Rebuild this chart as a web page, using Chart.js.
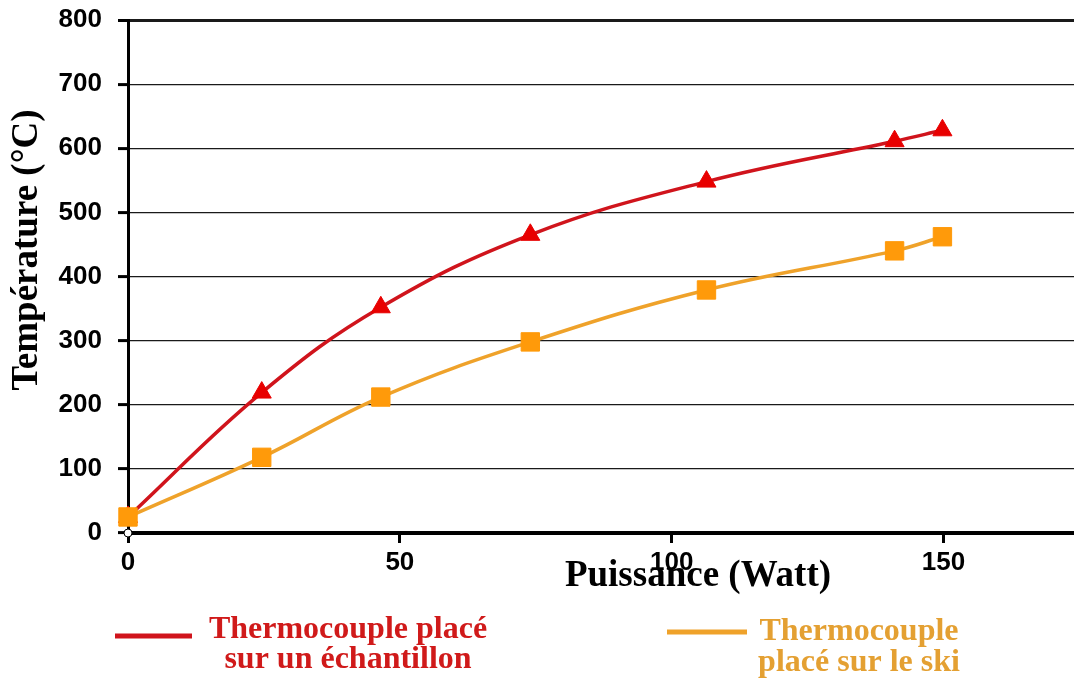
<!DOCTYPE html>
<html>
<head>
<meta charset="utf-8">
<script src="https://cdn.jsdelivr.net/npm/chart.js@4/dist/chart.umd.min.js"></script>
<style>
  html, body { margin: 0; padding: 0; background: #ffffff; }
  #wrap { width: 1074px; height: 680px; }
</style>
</head>
<body>
<div id="wrap"><canvas id="c" width="1074" height="680"></canvas></div>
<script>
// ---- Data ----
const puissance = [0, 24.6, 46.5, 74, 106.4, 141, 149.8];
const tempEchantillon = [25, 219, 352, 465, 548, 611, 628];
const tempSki = [25, 118, 212, 298, 379, 440, 462];
const seriesLabels = ['Thermocouple placé sur un échantillon', 'Thermocouple placé sur le ski'];
const legendLines = [['Thermocouple placé', 'sur un échantillon'], ['Thermocouple', 'placé sur le ski']];
const xTickValues = [0, 50, 100, 150];
const yTickValues = [0, 100, 200, 300, 400, 500, 600, 700, 800];
const xTitle = 'Puissance (Watt)';
const yTitle = 'Température (°C)';

const RED_LINE = '#D0141C', RED_MARK = '#E80000', RED_TEXT = '#D01A1A';
const OR_LINE = '#EFA22A', OR_MARK = '#FF9A0A', OR_TEXT = '#E4A032';

const toXY = (ys) => puissance.map((x, i) => ({ x: x, y: ys[i] }));

const decorPlugin = {
  id: 'decor',
  afterDraw(chart) {
    const ctx = chart.ctx;
    ctx.save();
    // axis titles
    ctx.fillStyle = '#000';
    ctx.font = 'bold 37px "Liberation Serif", "Times New Roman", serif';
    ctx.textAlign = 'center';
    ctx.textBaseline = 'alphabetic';
    ctx.fillText(xTitle, 698, 586);
    ctx.save();
    ctx.translate(37, 250);
    ctx.rotate(-Math.PI / 2);
    ctx.fillText(yTitle, 0, 0);
    ctx.restore();
    // origin marker
    ctx.beginPath();
    ctx.arc(chart.scales.x.getPixelForValue(0), chart.scales.y.getPixelForValue(0), 4, 0, Math.PI * 2);
    ctx.fillStyle = '#fff';
    ctx.fill();
    ctx.lineWidth = 1;
    ctx.strokeStyle = '#000';
    ctx.stroke();
    // legend
    const items = [
      { line: RED_LINE, text: RED_TEXT, x1: 115, x2: 192, ly: 636, cx: 348, b1: 638, b2: 668, lw: 5 },
      { line: OR_LINE, text: OR_TEXT, x1: 667, x2: 747, ly: 632, cx: 859, b1: 640, b2: 671, lw: 5 }
    ];
    items.forEach((it, i) => {
      ctx.strokeStyle = it.line;
      ctx.lineWidth = it.lw;
      ctx.beginPath();
      ctx.moveTo(it.x1, it.ly);
      ctx.lineTo(it.x2, it.ly);
      ctx.stroke();
      ctx.fillStyle = it.text;
      ctx.font = 'bold 32px "Liberation Serif", "Times New Roman", serif';
      ctx.textAlign = 'center';
      ctx.fillText(legendLines[i][0], it.cx, it.b1);
      ctx.fillText(legendLines[i][1], it.cx, it.b2);
    });
    ctx.restore();
  }
};

new Chart(document.getElementById('c'), {
  type: 'line',
  data: {
    datasets: [
      {
        label: seriesLabels[0],
        data: toXY(tempEchantillon),
        borderColor: RED_LINE,
        backgroundColor: RED_MARK,
        borderWidth: 3.5,
        pointStyle: 'triangle',
        pointRadius: 11,
        pointBorderWidth: 1,
        pointBorderColor: RED_MARK,
        pointBackgroundColor: RED_MARK,
        tension: 0.4,
        clip: false,
        order: 1
      },
      {
        label: seriesLabels[1],
        data: toXY(tempSki),
        borderColor: OR_LINE,
        backgroundColor: OR_MARK,
        borderWidth: 3.5,
        pointStyle: 'rect',
        pointRadius: 13,
        pointBorderWidth: 1,
        pointBorderColor: OR_MARK,
        pointBackgroundColor: OR_MARK,
        tension: 0.4,
        clip: false,
        order: 0
      }
    ]
  },
  options: {
    responsive: false,
    animation: false,
    devicePixelRatio: 1,
    layout: { autoPadding: false, padding: { left: 0, right: 0, top: 20, bottom: 0 } },
    plugins: { legend: { display: false }, tooltip: { enabled: false } },
    scales: {
      x: {
        type: 'linear',
        min: 0,
        max: 174,
        afterBuildTicks: (s) => { s.ticks = xTickValues.map(v => ({ value: v })); },
        afterFit: (s) => { s.height = 147; s.paddingLeft = 0; s.paddingRight = 0; },
        border: { display: true, color: '#000', width: 4 },
        grid: { drawOnChartArea: false, drawTicks: true, tickLength: 10, tickWidth: 3, tickColor: '#000' },
        ticks: {
          color: '#000',
          padding: 4,
          maxRotation: 0,
          font: { family: '"Liberation Sans", Arial, sans-serif', size: 26, weight: 'bold' }
        }
      },
      y: {
        type: 'linear',
        min: 0,
        max: 800,
        afterBuildTicks: (s) => { s.ticks = yTickValues.map(v => ({ value: v })); },
        afterFit: (s) => { s.width = 128; s.paddingTop = 0; s.paddingBottom = 0; },
        border: { display: true, color: '#000', width: 3 },
        grid: {
          color: '#1a1a1a',
          lineWidth: (c) => (c.tick && c.tick.value === 800 ? 3 : 1.2),
          tickLength: 10,
          tickWidth: 3,
          tickColor: '#000'
        },
        ticks: {
          color: '#000',
          padding: 16,
          font: { family: '"Liberation Sans", Arial, sans-serif', size: 26, weight: 'bold' }
        }
      }
    }
  },
  plugins: [decorPlugin]
});
</script>
</body>
</html>
